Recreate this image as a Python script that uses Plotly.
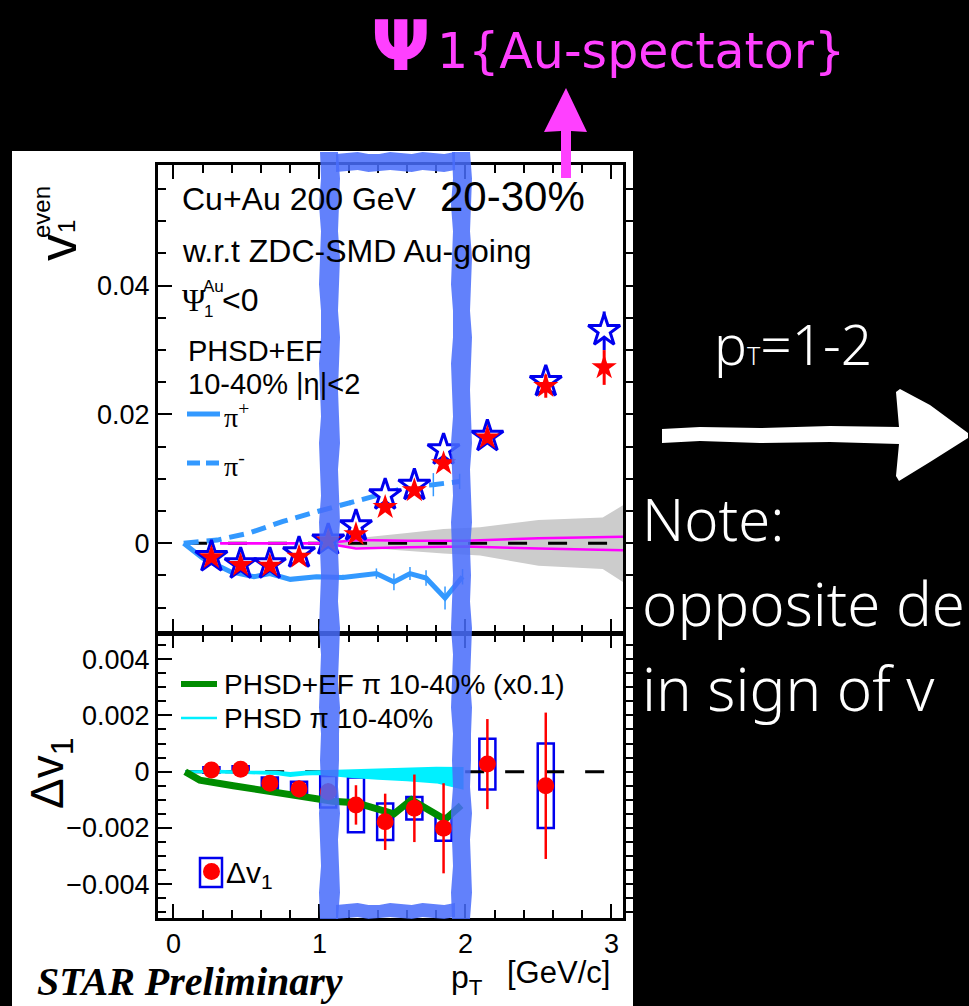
import plotly.graph_objects as go

W, H = 969, 1006


def px(x):
    return x / W


def py(y):
    return 1 - y / H


# ---------------- data: upper panel (v1 even vs pT) ----------------
pt_star = [0.26, 0.46, 0.66, 0.86, 1.06, 1.25, 1.45, 1.65, 1.85, 2.15, 2.55, 2.95]
v1_open = [-0.0021, -0.0032, -0.0032, -0.0015, 0.0005, 0.0027, 0.0075, 0.0090, 0.0145, 0.0166, 0.0251, 0.0330]
v1_open_err = [0.0003, 0.0003, 0.0003, 0.0003, 0.0003, 0.0004, 0.0005, 0.0006, 0.0008, 0.0008, 0.0018, 0.0030]
v1_full = [-0.0022, -0.0034, -0.0035, -0.0021, 0.0004, 0.0014, 0.0056, 0.0082, 0.0124, 0.0164, 0.0244, 0.0273]
v1_full_err = [0.0003, 0.0003, 0.0003, 0.0003, 0.0003, 0.0004, 0.0005, 0.0006, 0.0008, 0.0008, 0.0018, 0.0027]

pip_pt = [0.07, 0.20, 0.39, 0.55, 0.66, 0.80, 0.98, 1.16, 1.39, 1.51, 1.62, 1.73, 1.86, 1.98]
pip_v1 = [0.0, -0.0023, -0.0044, -0.0052, -0.0047, -0.0056, -0.0052, -0.0053, -0.0047, -0.0060, -0.0047, -0.0054, -0.0085, -0.0052]
pip_err = [0, 0, 0, 0, 0, 0, 0, 0.0004, 0.0008, 0.0013, 0.0010, 0.0012, 0.0018, 0.0012]

pim_pt = [0.07, 0.30, 0.52, 0.75, 0.98, 1.21, 1.44, 1.62, 1.78, 1.96]
pim_v1 = [0.0, 0.0005, 0.0016, 0.0034, 0.0049, 0.0063, 0.0078, 0.0088, 0.0091, 0.0096]
pim_err = [0, 0, 0, 0, 0, 0.0004, 0.0008, 0.0010, 0.0018, 0.0012]

mag_pt = [0.32, 1.00, 1.12, 1.25, 1.60, 2.00, 2.50, 2.95, 3.079]
mag_hi = [0.0, 0.0, 0.0002, 0.0005, 0.0004, 0.0004, 0.0008, 0.0010, 0.0010]
mag_lo = [0.0, 0.0, -0.0003, -0.0008, -0.0006, -0.0005, -0.0008, -0.0010, -0.0011]

band_pt = [0.96, 1.10, 1.30, 1.60, 1.85, 2.10, 2.50, 2.94, 3.079]
band_hi = [0.0001, 0.0004, 0.0009, 0.0016, 0.0022, 0.0025, 0.0036, 0.0040, 0.0059]
band_lo = [-0.0001, -0.0004, -0.0007, -0.0012, -0.0016, -0.0019, -0.0035, -0.0040, -0.0060]

# ---------------- data: lower panel (delta v1 vs pT) ----------------
pt_dv = [0.26, 0.46, 0.66, 0.86, 1.06, 1.25, 1.45, 1.65, 1.85, 2.15, 2.55]
dv1 = [0.00006, 0.00009, -0.00041, -0.00061, -0.00071, -0.00118, -0.00178, -0.00130, -0.00201, 0.00027, -0.00050]
dv1_stat = [0.0001, 0.0001, 0.00015, 0.0003, 0.0003, 0.0007, 0.0010, 0.0012, 0.0016, 0.0016, 0.0026]
dv1_sys = [0.0001, 0.0001, 0.0002, 0.00025, 0.00056, 0.00097, 0.00065, 0.0004, 0.00044, 0.0009, 0.0015]
sys_halfwidth = 0.055

ef_pt = [0.08, 0.18, 0.41, 0.64, 0.87, 1.09, 1.25, 1.51, 1.63, 1.86, 1.97]
ef_dv1 = [0.0, -0.0003, -0.0005, -0.0007, -0.00087, -0.00105, -0.0011, -0.0015, -0.0010, -0.0017, -0.0012]

cy_pt = [0.08, 0.30, 0.50, 0.70, 0.80, 0.90, 1.00, 1.20, 1.40, 1.60, 1.80, 1.98]
cy_hi = [0.00001, 0.00003, 0.0, 0.0, -0.00005, 0.0, 0.00002, 0.00005, 0.00008, 0.0001, 0.00014, 0.00013]
cy_lo = [-0.00001, -0.00003, -0.00005, -0.00008, -0.00015, -0.0001, -0.00008, -0.00018, -0.00025, -0.0003, -0.00038, -0.0006]

x_range = [-0.106, 3.079]
y_top_range = [-0.01393, 0.05874]
y_bot_range = [-0.005197, 0.004892]

PI_BLUE = "#3399ff"
MAGENTA = "#ff00ff"
HL_BLUE = "rgba(72,108,250,0.86)"
TITLE_PINK = "#ff40ff"

fig = go.Figure()

# upper panel -----------------------------------------------------------
fig.add_trace(go.Scatter(x=band_pt + band_pt[::-1], y=band_hi + band_lo[::-1], fill="toself",
                         fillcolor="#cccccc", line=dict(width=0), mode="lines",
                         xaxis="x", yaxis="y", hoverinfo="skip"))
fig.add_trace(go.Scatter(x=[0.1, x_range[1]], y=[0, 0], mode="lines",
                         line=dict(color="black", width=3, dash="19px,21px"), xaxis="x", yaxis="y"))
fig.add_trace(go.Scatter(x=mag_pt, y=mag_hi, mode="lines", line=dict(color=MAGENTA, width=2.5),
                         xaxis="x", yaxis="y"))
fig.add_trace(go.Scatter(x=mag_pt, y=mag_lo, mode="lines", line=dict(color=MAGENTA, width=2.5),
                         xaxis="x", yaxis="y"))
fig.add_trace(go.Scatter(x=pip_pt, y=pip_v1, mode="lines", line=dict(color=PI_BLUE, width=5),
                         error_y=dict(type="data", array=pip_err, color=PI_BLUE, thickness=1.5, width=0),
                         xaxis="x", yaxis="y"))
fig.add_trace(go.Scatter(x=pim_pt, y=pim_v1, mode="lines",
                         line=dict(color=PI_BLUE, width=5, dash="15px,8px"),
                         error_y=dict(type="data", array=pim_err, color=PI_BLUE, thickness=1.5, width=0),
                         xaxis="x", yaxis="y"))
fig.add_trace(go.Scatter(x=pt_star, y=v1_open, mode="markers",
                         marker=dict(symbol="star", size=24, color="white", line=dict(color="#0000ee", width=3)),
                         error_y=dict(type="data", array=v1_open_err, color="#0000ee", thickness=3, width=0),
                         xaxis="x", yaxis="y"))
fig.add_trace(go.Scatter(x=pt_star, y=v1_full, mode="markers",
                         marker=dict(symbol="star", size=19, color="#ff0000", line=dict(width=0)),
                         error_y=dict(type="data", array=v1_full_err, color="#ff0000", thickness=3, width=0),
                         xaxis="x", yaxis="y"))
# right-hand outer ticks of the upper frame
fig.add_trace(go.Scatter(x=[0], y=[0], mode="markers", marker=dict(opacity=0), xaxis="x", yaxis="y3",
                         hoverinfo="skip"))

# lower panel -----------------------------------------------------------
fig.add_trace(go.Scatter(x=[0.08, x_range[1]], y=[0, 0], mode="lines",
                         line=dict(color="black", width=3, dash="19px,21px"), xaxis="x2", yaxis="y2"))
fig.add_trace(go.Scatter(x=cy_pt + cy_pt[::-1], y=cy_hi + cy_lo[::-1], fill="toself",
                         fillcolor="#00f0ff", line=dict(color="#00f0ff", width=2), mode="lines",
                         xaxis="x2", yaxis="y2", hoverinfo="skip"))
fig.add_trace(go.Scatter(x=ef_pt, y=ef_dv1, mode="lines", line=dict(color="#008c00", width=7),
                         xaxis="x2", yaxis="y2"))
fig.add_trace(go.Scatter(x=pt_dv, y=dv1, mode="markers",
                         marker=dict(symbol="circle", size=17, color="#ff0000"),
                         error_y=dict(type="data", array=dv1_stat, color="#ff0000", thickness=2.5, width=0),
                         xaxis="x2", yaxis="y2"))
fig.add_trace(go.Scatter(x=[0], y=[0], mode="markers", marker=dict(opacity=0), xaxis="x2", yaxis="y4",
                         hoverinfo="skip"))

shapes = []
# white page behind the figure
shapes.append(dict(type="rect", xref="paper", yref="paper", x0=px(12), x1=px(633), y0=py(1006), y1=py(151),
                   fillcolor="white", line=dict(width=0), layer="below"))
# systematic boxes
for x, y, s in zip(pt_dv, dv1, dv1_sys):
    shapes.append(dict(type="rect", xref="x2", yref="y2", x0=x - sys_halfwidth, x1=x + sys_halfwidth,
                       y0=y - s, y1=y + s, line=dict(color="#0000ee", width=2.5), fillcolor="rgba(0,0,0,0)",
                       layer="below"))

# legend samples
shapes.append(dict(type="line", xref="paper", yref="paper", x0=px(187), x1=px(220), y0=py(414), y1=py(414),
                   line=dict(color=PI_BLUE, width=5)))
shapes.append(dict(type="line", xref="paper", yref="paper", x0=px(187), x1=px(220), y0=py(463), y1=py(463),
                   line=dict(color=PI_BLUE, width=5, dash="13px,6px")))
shapes.append(dict(type="line", xref="paper", yref="paper", x0=px(181), x1=px(217), y0=py(684), y1=py(684),
                   line=dict(color="#008c00", width=6)))
shapes.append(dict(type="line", xref="paper", yref="paper", x0=px(181), x1=px(217), y0=py(718), y1=py(718),
                   line=dict(color="#00f0ff", width=2.5)))
shapes.append(dict(type="rect", xref="paper", yref="paper", x0=px(200), x1=px(222), y0=py(887), y1=py(858),
                   line=dict(color="#0000ee", width=2.5)))
shapes.append(dict(type="circle", xref="paper", yref="paper", x0=px(203), x1=px(220), y0=py(880), y1=py(863),
                   fillcolor="#ff0000", line=dict(width=0)))


def path(points):
    return "M " + " L ".join(f"{px(a):.5f},{py(b):.5f}" for a, b in points) + " Z"


# pT window highlight, drawn as a marker-like frame with slightly ragged edges
wob = [0, 1, -1, 1, 0, -1, 1, 1, -1, 0, 1, -1, 0, 1, -1, 0, 1, 0, -1, 1, 0, -1, 1, 0, 1, -1, 0, 1, -1, 0]


def ragged_vbar(x0, x1, y0, y1):
    n = len(wob)
    ys = [y0 + (y1 - y0) * i / (n - 1) for i in range(n)]
    left = [(x0 + wob[i], ys[i]) for i in range(n)]
    right = [(x1 - wob[(i + 7) % n], ys[i]) for i in range(n)][::-1]
    return path(left + right)


def ragged_hbar(x0, x1, y0, y1):
    n = 12
    xs = [x0 + (x1 - x0) * i / (n - 1) for i in range(n)]
    top = [(xs[i], y0 + wob[(i + 3) % len(wob)]) for i in range(n)]
    bot = [(xs[i], y1 - wob[(i + 11) % len(wob)]) for i in range(n)][::-1]
    return path(top + bot)


for p in [ragged_vbar(320, 339, 152, 919), ragged_vbar(452, 471, 152, 919),
          ragged_hbar(336, 455, 153, 171), ragged_hbar(336, 455, 904, 918)]:
    shapes.append(dict(type="path", xref="paper", yref="paper", path=p,
                       fillcolor=HL_BLUE, line=dict(width=0), layer="above"))

# magenta arrow
shapes.append(dict(type="path", xref="paper", yref="paper",
                   path=path([(561, 178), (561, 131), (544, 132), (566, 88), (587, 132), (571, 131), (571, 178)]),
                   fillcolor=TITLE_PINK, line=dict(width=0), layer="above"))
# white chalk arrow
shapes.append(dict(type="path", xref="paper", yref="paper",
                   path=path([(662, 429), (700, 427), (760, 428), (830, 426), (899, 427), (896, 392), (900, 389),
                              (930, 405), (968, 433), (968, 438), (930, 462), (899, 481), (896, 476), (899, 444),
                              (830, 442), (760, 443), (700, 441), (662, 443)]),
                   fillcolor="white", line=dict(width=0), layer="above"))

SANS = "Liberation Sans"
ann = []


def text(x, y, s, size, color="black", family=SANS, xanchor="left", angle=0, yanchor="middle", weight=None):
    font = dict(family=family, size=size, color=color)
    if weight:
        font["weight"] = weight
    ann.append(dict(x=px(x), y=py(y), xref="paper", yref="paper", text=s, showarrow=False,
                    xanchor=xanchor, yanchor=yanchor, textangle=angle, font=font))


text(180, 199, "Cu+Au 200 GeV", 32)
text(438, 196, "20-30%", 42)
text(180, 251, "w.r.t ZDC-SMD Au-going", 32)
text(180, 300, "Ψ", 32, family="Liberation Serif")
text(201, 287, "Au", 17)
text(202, 311, "1", 17)
text(220, 300, "&lt;0", 32)
text(186, 351, "PHSD+EF", 29)
text(186, 384, "10-40% |η|&lt;2", 29)
text(222, 416, "π<sup>+</sup>", 28, family="Liberation Serif")
text(222, 464, "π<sup>-</sup>", 28, family="Liberation Serif")

text(222, 684, "PHSD+EF π 10-40% (x0.1)", 28)
text(222, 718, "PHSD π 10-40%", 28)
text(224, 874, "Δv<sub>1</sub>", 30)

# axis titles
text(57, 248, "v", 54, xanchor="center", angle=-90)
text(41, 212, "even", 24, xanchor="center", angle=-90)
text(66, 227, "1", 24, xanchor="center", angle=-90)
text(50, 773, "Δv<sub>1</sub>", 46, xanchor="center", angle=-90)
text(449, 979, "p<sub>T</sub>", 32)
text(612, 972, "[GeV/c]", 31, xanchor="right")
text(35, 981, "<b><i>STAR Preliminary</i></b>", 40, family="Liberation Serif")

# header and side notes
text(369, 46, "Ψ", 70, color=TITLE_PINK, family="DejaVu Sans", weight="bold")
text(435, 52, "1{Au-spectator}", 49, color=TITLE_PINK, family="DejaVu Sans")
text(712, 344, "p<span style='font-size:25px'>T</span>=1-2", 55, color="white", family="Noto Sans", weight=300)
text(640, 518, "Note:", 58, color="white", family="Noto Sans", weight=300)
text(640, 603, "opposite de", 60, color="white", family="Noto Sans", weight=300)
text(640, 688, "in sign of v", 60, color="white", family="Noto Sans", weight=300)

axis_common = dict(showline=True, linewidth=3, linecolor="black", ticks="inside", tickwidth=2,
                   tickcolor="black", ticklen=14, showgrid=False, zeroline=False,
                   tickfont=dict(family=SANS, size=27, color="black"))

fig.update_layout(
    width=W, height=H, margin=dict(l=0, r=0, t=0, b=0),
    paper_bgcolor="black", plot_bgcolor="white", showlegend=False,
    xaxis=dict(domain=[px(158), px(623)], anchor="y", range=x_range, dtick=1, tick0=0,
               mirror="ticks", showticklabels=False,
               minor=dict(ticks="inside", dtick=0.2, tick0=0, ticklen=8, tickwidth=2, tickcolor="black"),
               **axis_common),
    xaxis2=dict(domain=[px(158), px(623)], anchor="y2", range=x_range, dtick=1, tick0=0,
                mirror="ticks", showticklabels=True, matches="x",
                minor=dict(ticks="inside", dtick=0.2, tick0=0, ticklen=8, tickwidth=2, tickcolor="black"),
                **axis_common),
    yaxis=dict(domain=[py(633), py(165)], anchor="x", range=y_top_range, dtick=0.02, tick0=0, mirror=True,
               minor=dict(ticks="inside", dtick=0.005, tick0=0, ticklen=8, tickwidth=2, tickcolor="black"),
               **axis_common),
    yaxis2=dict(domain=[py(918), py(634)], anchor="x2", range=y_bot_range, dtick=0.002, tick0=0, mirror=True,
                minor=dict(ticks="inside", dtick=0.0005, tick0=0, ticklen=8, tickwidth=2, tickcolor="black"),
                **axis_common),
    yaxis3=dict(overlaying="y", side="right", anchor="x", range=y_top_range, dtick=0.005, tick0=0,
                ticks="outside", ticklen=9, tickwidth=2, tickcolor="black", showticklabels=False,
                showgrid=False, zeroline=False, showline=False),
    yaxis4=dict(overlaying="y2", side="right", anchor="x2", range=y_bot_range, dtick=0.0005, tick0=0,
                ticks="outside", ticklen=9, tickwidth=2, tickcolor="black", showticklabels=False,
                showgrid=False, zeroline=False, showline=False),
    shapes=shapes, annotations=ann,
)

fig.write_html("out.html")
